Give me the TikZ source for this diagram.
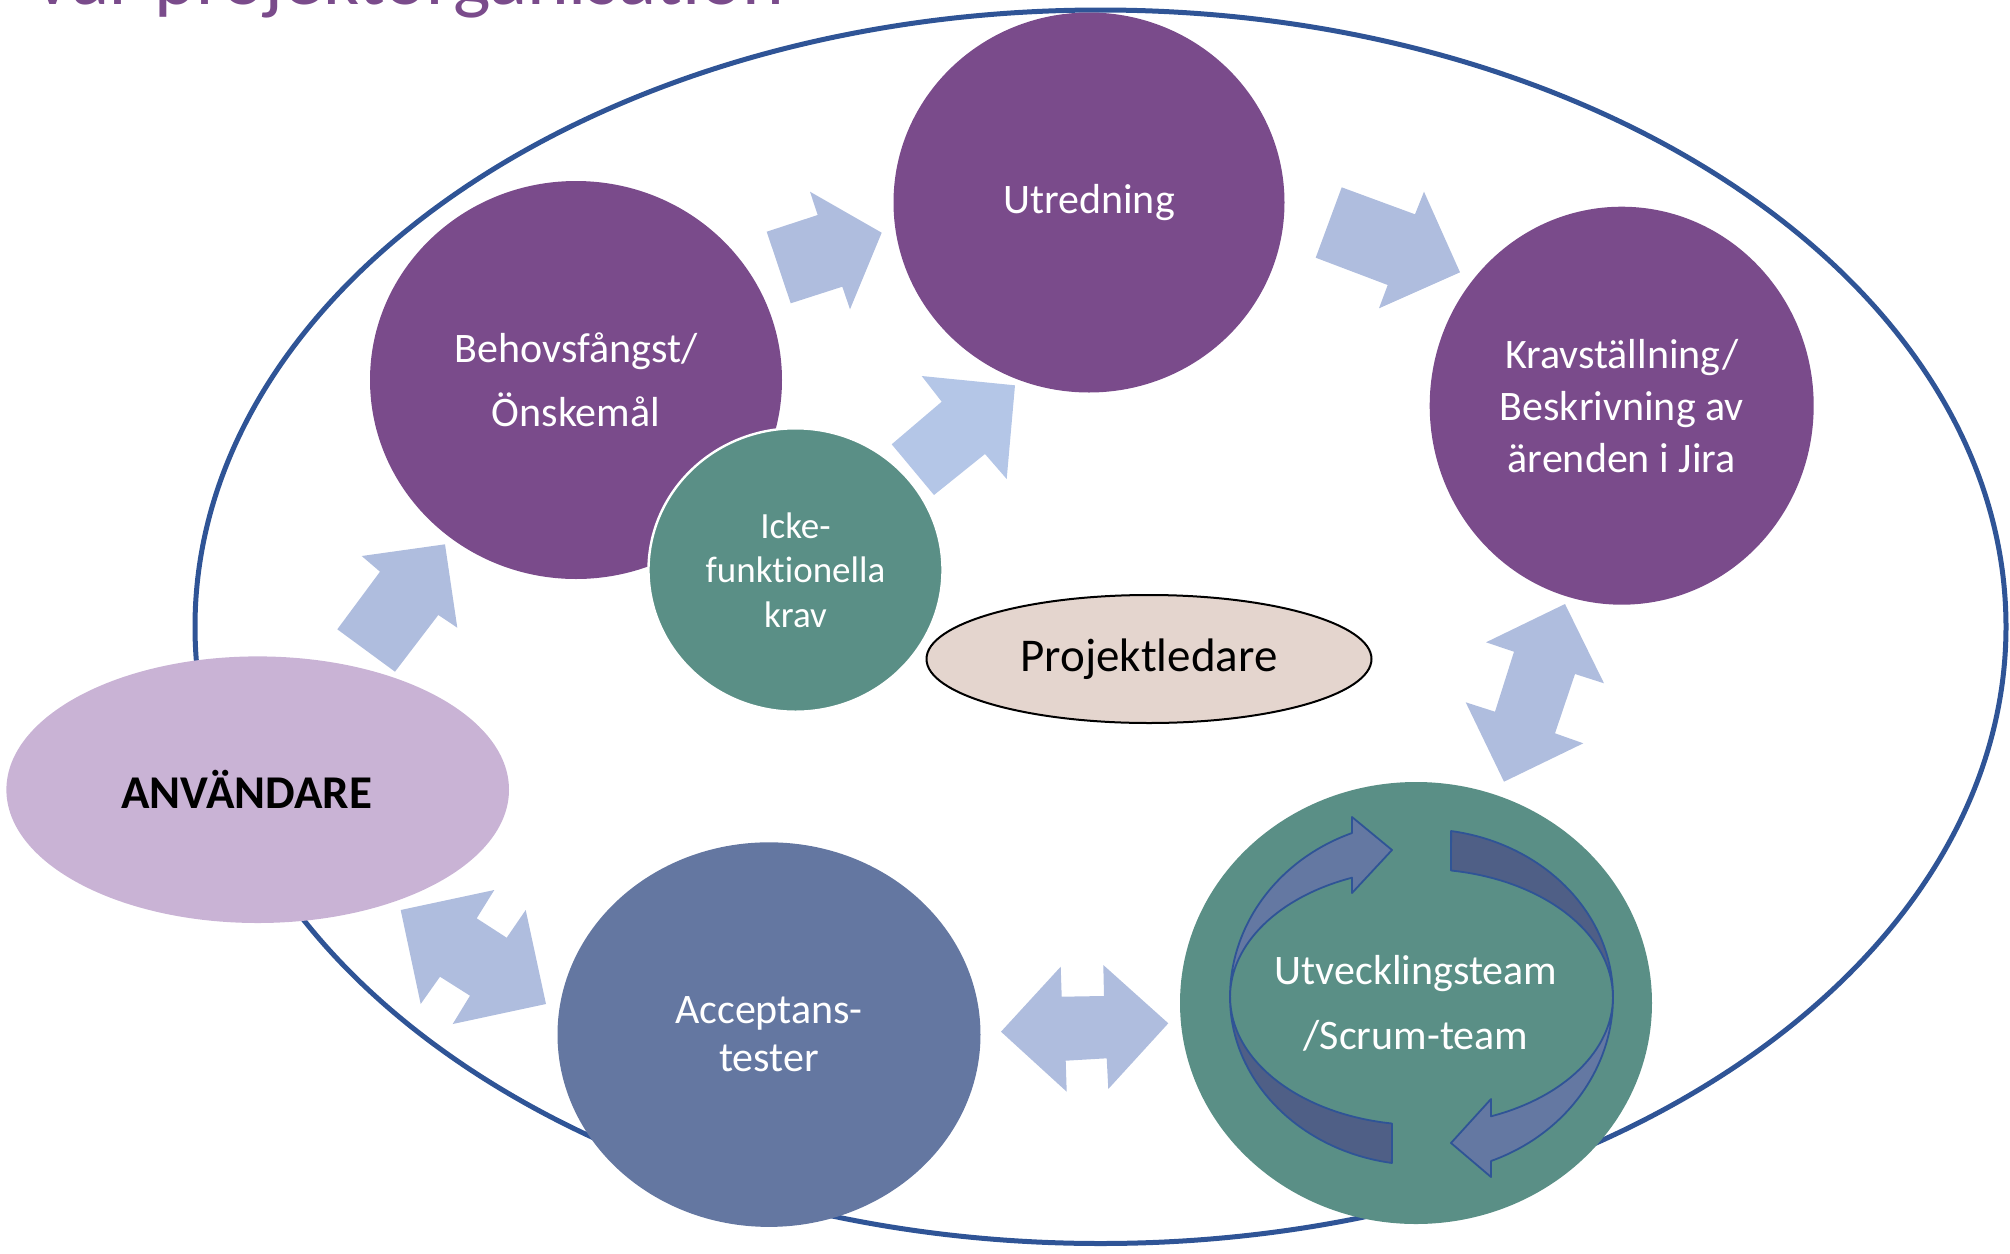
\documentclass[tikz,border=0pt]{standalone}
\usepackage{fontspec}
\setmainfont{Carlito}[Ligatures=NoCommon]
\usepackage{xcolor}
\usetikzlibrary{shapes.geometric, calc}

\definecolor{phasepurple}{HTML}{7A4B8B}
\definecolor{phaseteal}{HTML}{5A8F86}
\definecolor{phaseblue}{HTML}{6477A1}
\definecolor{userlilac}{HTML}{C9B3D5}
\definecolor{leadbeige}{HTML}{E4D5CE}
\definecolor{arrowfill}{HTML}{AFBDDE}
\definecolor{arrowfillb}{HTML}{B4C6E7}
\definecolor{frameblue}{HTML}{2F5496}
\definecolor{cyclelight}{HTML}{6478A2}
\definecolor{cycledark}{HTML}{4F5F86}

\begin{document}
\begin{tikzpicture}[x=0.5pt, y=-0.5pt,
    phase/.style={ellipse, inner sep=0pt, outer sep=0pt, align=center, text=white, font={\fontsize{21}{26}\selectfont}},
    blockarrow/.style={fill=arrowfill},
    cyclight/.style={fill=cyclelight, draw=frameblue, line width=0.9pt, line join=round},
    cycdark/.style={fill=cycledark, draw=frameblue, line width=0.9pt, line join=round}]
    \useasboundingbox (0,0) rectangle (2010,1254);

    % outer frame and title
    \node (helhet) [ellipse, draw=frameblue, line width=2.5pt, minimum width=905.5pt, minimum height=616.75pt] at (1100.5,626.75) {};
    \node (titel) [anchor=base west, inner sep=0pt, text=phasepurple, font={\fontsize{39.7}{47}\selectfont}] at (30,4) {Vår projektorganisation};

    \node (anvandare) [phase, fill=userlilac, minimum width=251.3pt, minimum height=133.3pt,
        label={[text=black, xshift=-5.5pt, font={\fontsize{23.5}{28}\selectfont\bfseries}]center:ANVÄNDARE}] at (257.7,789.7) {};
    \node (behov) [phase, fill=phasepurple, minimum width=206pt, minimum height=199pt, font={\fontsize{21}{32}\selectfont}] at (576,380) {Behovsfångst/\\Önskemål};
    \node (icke) [phase, fill=phaseteal, draw=white, line width=1.2pt, minimum width=147pt, minimum height=141.7pt, font={\fontsize{18.5}{22.3}\selectfont}] at (795.5,570) {Icke-\\funktionella\\krav};
    \node (utredning) [phase, fill=phasepurple, minimum width=195.5pt, minimum height=190pt] at (1089,202.5) {Utredning};
    \node (krav) [phase, fill=phasepurple, minimum width=192pt, minimum height=199pt] at (1621.7,405.7) {Kravställning/\\Beskrivning av\\ärenden i Jira};
    \node (projektledare) [ellipse, draw=black, line width=1pt, fill=leadbeige, inner sep=0pt, minimum width=222.5pt, minimum height=64pt, font={\fontsize{23.5}{28}\selectfont}] at (1149,659) {\raisebox{-2pt}{Projektledare}};
    \node (acceptans) [phase, fill=phaseblue, minimum width=211.5pt, minimum height=192.3pt, font={\fontsize{21}{24}\selectfont}] at (769,1034.6) {Acceptans-\\tester};
    \node (utveckling) [phase, fill=phaseteal, minimum width=236pt, minimum height=221pt] at (1416,1003) {};

    % cycle arrows round the team
    \fill [cycdark] (1230,997) arc[start angle=180, end angle=261.1, x radius=95.75pt, y radius=84pt]
        -- (1392,1123.5) arc[start angle=261.1, end angle=180, x radius=95.75pt, y radius=64pt] -- cycle;
    \fill [cyclight] (1230,997) arc[start angle=180, end angle=111.3, x radius=95.75pt, y radius=88pt]
        -- (1352,817) -- (1392,850) -- (1352,893) -- (1352,877.7)
        arc[start angle=111.3, end angle=180, x radius=95.75pt, y radius=64pt] -- cycle;
    \fill [cycdark] (1613,997) arc[start angle=0, end angle=81.1, x radius=95.75pt, y radius=84pt]
        -- (1451,870.5) arc[start angle=81.1, end angle=0, x radius=95.75pt, y radius=64pt] -- cycle;
    \fill [cyclight] (1613,997) arc[start angle=0, end angle=-68.7, x radius=95.75pt, y radius=88pt]
        -- (1491,1177) -- (1451,1143) -- (1491,1099) -- (1491,1116.3)
        arc[start angle=-68.7, end angle=0, x radius=95.75pt, y radius=64pt] -- cycle;
    \node (teamtext) [align=center, text=white, inner sep=0pt, font={\fontsize{21}{32.5}\selectfont}] at (utveckling.center) {Utvecklingsteam\\/Scrum-team};

    % block arrows between the phases
    \fill [blockarrow] (337.3,629.3) -- (380,571.7) -- (361.7,556) -- (445,544.3) -- (457.3,627.7) -- (438.3,615) -- (395,671.7) -- cycle;
    \fill [blockarrow] (766.7,231.7) -- (817.7,215) -- (810,191.7) -- (881.7,232.7) -- (850,309.3) -- (842.3,286.7) -- (790.7,303.3) -- cycle;
    \fill [blockarrow, fill=arrowfillb] (891.7,444.3) -- (941.7,401.7) -- (921.7,376) -- (1015,385.3) -- (1006.7,479) -- (985,454) -- (934,495) -- cycle;
    \fill [blockarrow] (1341.7,187.3) -- (1415,214.3) -- (1424,191.7) -- (1460,272.3) -- (1379,308.3) -- (1387.7,285) -- (1315.7,257.7) -- cycle;
    \fill [blockarrow] (1565,604) -- (1604,683.3) -- (1575,674) -- (1555,733.3) -- (1583.3,743.3) -- (1504,781.7) -- (1465.7,702.3) -- (1495,711.7) -- (1514,651.7) -- (1486,642.3) -- cycle;
    \fill [blockarrow] (1001,1031.7) -- (1060.7,966.7) -- (1061.7,996.7) -- (1104,996) -- (1103.3,965) -- (1168.3,1023.3) -- (1108.3,1089) -- (1106.7,1058.3) -- (1065.7,1060.7) -- (1066.7,1091.7) -- cycle;
    \fill [blockarrow] (400.7,910) -- (494.3,890) -- (476.7,918.3) -- (506.7,937.7) -- (525.7,910) -- (546,1004) -- (452.7,1024) -- (470,995.7) -- (440,976.7) -- (420.7,1004) -- cycle;
\end{tikzpicture}
\end{document}
